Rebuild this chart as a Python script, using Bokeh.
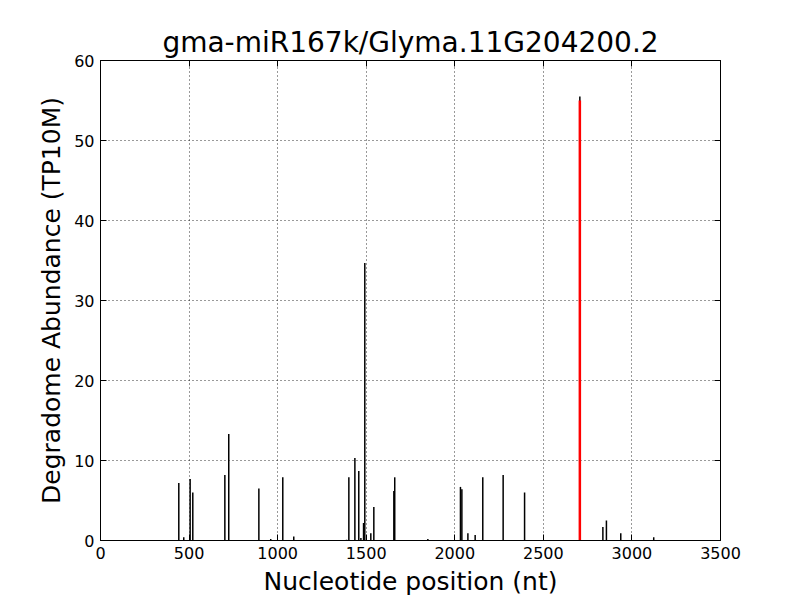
from bokeh.plotting import figure
from bokeh.models import LinearAxis, Range1d, FixedTicker
from bokeh.embed import file_html
from bokeh.resources import INLINE

# Data
positions = [442, 470, 506, 521, 702, 724, 894, 961, 1029, 1091, 1389, 1402, 1436,
             1458, 1470, 1485, 1492, 1526, 1543, 1656, 1661, 1848, 2032, 2040,
             2074, 2115, 2158, 2273, 2394, 2706, 2836, 2856, 2937, 3123]
abundance = [7.2, 0.4, 7.7, 6.0, 8.2, 13.3, 6.5, 0.2, 7.9, 0.5, 0.1, 7.9, 10.3,
             8.7, 0.3, 2.2, 34.7, 0.9, 4.2, 6.2, 7.9, 0.2, 6.7, 6.4,
             0.9, 0.7, 7.9, 8.2, 6.0, 55.5, 1.7, 2.5, 0.9, 0.4]
target_pos = [2706]
target_val = [55.0]

x_ticks = [0, 500, 1000, 1500, 2000, 2500, 3000, 3500]
y_ticks = [0, 10, 20, 30, 40, 50, 60]

FONT = "DejaVu Sans"

p = figure(width=784, height=600, output_backend="svg", toolbar_location=None,
           x_range=Range1d(0, 3500), y_range=Range1d(0, 60),
           min_border_left=100, min_border_right=64, min_border_top=60,
           min_border_bottom=60, title="gma-miR167k/Glyma.11G204200.2")

p.title.align = "center"
p.title.text_font = FONT
p.title.text_font_size = "28px"
p.title.text_font_style = "normal"
p.title.text_color = "black"
p.title.standoff = 4

p.background_fill_color = "white"
p.border_fill_color = "white"
p.outline_line_color = "black"
p.outline_line_width = 1

for ax in [p.xaxis[0], p.yaxis[0]]:
    ax.axis_label_text_font = FONT
    ax.axis_label_text_font_style = "normal"
    ax.axis_label_text_color = "black"
    ax.axis_label_text_font_size = "25px"
    ax.major_label_text_font = FONT
    ax.major_label_text_font_size = "16px"
    ax.major_label_text_color = "black"
    ax.major_tick_in = 6
    ax.major_tick_out = 0
    ax.minor_tick_in = 0
    ax.minor_tick_out = 0
    ax.axis_line_color = "black"
    ax.major_tick_line_color = "black"

p.xaxis[0].ticker = FixedTicker(ticks=x_ticks)
p.yaxis[0].ticker = FixedTicker(ticks=y_ticks)
p.xaxis[0].axis_label = "Nucleotide position (nt)"
p.yaxis[0].axis_label = "Degradome Abundance (TP10M)"
p.xaxis[0].major_label_standoff = 6
p.yaxis[0].major_label_standoff = 6
p.xaxis[0].axis_label_standoff = 5
p.yaxis[0].axis_label_standoff = 5

top_ax = LinearAxis(ticker=FixedTicker(ticks=x_ticks), major_label_text_font_size="0px",
                    major_tick_in=6, major_tick_out=0, minor_tick_in=0, minor_tick_out=0,
                    axis_line_color="black", major_label_standoff=0)
right_ax = LinearAxis(ticker=FixedTicker(ticks=y_ticks), major_label_text_font_size="0px",
                      major_tick_in=6, major_tick_out=0, minor_tick_in=0, minor_tick_out=0,
                      axis_line_color="black", major_label_standoff=0)
p.add_layout(top_ax, "above")
p.add_layout(right_ax, "right")

p.xgrid.ticker = FixedTicker(ticks=x_ticks)
p.ygrid.ticker = FixedTicker(ticks=y_ticks)
for g in [p.xgrid[0], p.ygrid[0]]:
    g.grid_line_color = "black"
    g.grid_line_dash = "1 3"
    g.grid_line_width = 1
    g.grid_line_alpha = 0.8

p.segment(x0=positions, y0=[0] * len(positions), x1=positions, y1=abundance,
          line_color="black", line_width=1.5)
p.segment(x0=target_pos, y0=[0], x1=target_pos, y1=target_val,
          line_color="red", line_width=2.5)

open("out.html", "w").write(file_html(p, INLINE))
